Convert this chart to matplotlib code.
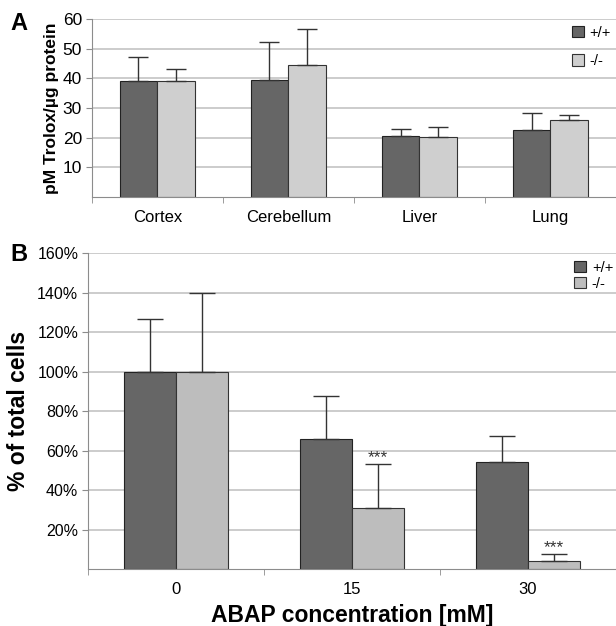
import numpy as np
import matplotlib
matplotlib.use('Agg')
import matplotlib.pyplot as plt
from matplotlib.ticker import FixedLocator, FuncFormatter

plt.rcParams['font.family'] = ['Liberation Sans', 'DejaVu Sans']

# panel A: antioxidant capacity
tissues = ['Cortex', 'Cerebellum', 'Liver', 'Lung']
wt_A = [39.1, 39.4, 20.5, 22.7]
wt_A_err = [8.1, 12.7, 2.3, 5.5]
ko_A = [39.0, 44.4, 20.3, 25.9]
ko_A_err = [4.1, 12.1, 3.4, 1.6]

# panel B: survival after ABAP
abap = ['0', '15', '30']
wt_B = [100, 65.7, 54.1]
wt_B_err = [26.8, 22.0, 13.4]
ko_B = [100, 31.2, 4.0]
ko_B_err = [39.8, 21.9, 3.7]
stars_B = ['', '***', '***']

labels = ['+/+', '-/-']
dark = '#666666'
light_A = '#cfcfcf'
light_B = '#bdbdbd'
grid_c = '#c4c4c4'
axis_c = '#8c8c8c'


def style_axes(ax, n):
    ax.spines['top'].set_visible(False)
    ax.spines['right'].set_visible(False)
    ax.spines['left'].set_color(axis_c)
    ax.spines['bottom'].set_color(axis_c)
    ax.yaxis.grid(True, color=grid_c, linewidth=1.2)
    ax.set_axisbelow(True)
    ax.set_xlim(-0.5, n - 0.5)
    ax.set_xticks(np.arange(n))
    ax.xaxis.set_minor_locator(FixedLocator(np.arange(n + 1) - 0.5))
    ax.tick_params(axis='x', which='major', length=0, pad=9)
    ax.tick_params(axis='x', which='minor', length=4, color=axis_c)
    ax.tick_params(axis='y', length=4, color=axis_c, pad=3)


fig = plt.figure(figsize=(6.16, 6.26), dpi=100)

# ---- A ----
ax = fig.add_axes([0.149, 0.685, 0.851, 0.285])
x = np.arange(len(tissues))
w = 0.288
ekw = dict(ecolor='#333333', elinewidth=1.0, capsize=7, capthick=1.0)
ax.bar(x - w / 2, wt_A, w, color=dark, edgecolor='#222222', linewidth=0.8,
       yerr=[np.zeros(len(x)), wt_A_err], error_kw=ekw, label=labels[0])
ax.bar(x + w / 2, ko_A, w, color=light_A, edgecolor='#333333', linewidth=0.8,
       yerr=[np.zeros(len(x)), ko_A_err], error_kw=ekw, label=labels[1])
style_axes(ax, len(tissues))
ax.set_ylim(0, 60)
ax.set_yticks([10, 20, 30, 40, 50, 60])
ax.set_xticklabels(tissues, fontsize=12)
ax.tick_params(axis='y', labelsize=12.5)
ax.set_ylabel('pM Trolox/µg protein', fontsize=12.5, fontweight='bold', labelpad=3)
ax.legend(loc='upper left', bbox_to_anchor=(0.905, 0.995), frameon=False, fontsize=10.5,
          handlelength=0.8, handleheight=0.8, handletextpad=0.4, labelspacing=1.0,
          borderaxespad=0)
fig.text(0.017, 0.962, 'A', fontsize=17, fontweight='bold', va='center')

# ---- B ----
ax = fig.add_axes([0.143, 0.0906, 0.857, 0.505])
x = np.arange(len(abap))
w = 0.295
ekw = dict(ecolor='#333333', elinewidth=1.0, capsize=9.5, capthick=1.0)
ax.bar(x - w / 2, wt_B, w, color=dark, edgecolor='#222222', linewidth=0.8,
       yerr=[np.zeros(len(x)), wt_B_err], error_kw=ekw, label=labels[0])
ax.bar(x + w / 2, ko_B, w, color=light_B, edgecolor='#333333', linewidth=0.8,
       yerr=[np.zeros(len(x)), ko_B_err], error_kw=ekw, label=labels[1])
for i, s in enumerate(stars_B):
    if s:
        ax.text(x[i] + w / 2, ko_B[i] + ko_B_err[i] - 0.5, s, ha='center', va='bottom',
                fontsize=12.5, color='#333333')
style_axes(ax, len(abap))
ax.set_ylim(0, 160)
ax.set_yticks(np.arange(20, 161, 20))
ax.yaxis.set_major_formatter(FuncFormatter(lambda v, p: '%d%%' % v))
ax.set_xticklabels(abap, fontsize=12)
ax.tick_params(axis='y', labelsize=11.5)
ax.set_ylabel('% of total cells', fontsize=16.5, fontweight='bold', labelpad=5)
ax.set_xlabel('ABAP concentration [mM]', fontsize=16.5, fontweight='bold', labelpad=5)
ax.legend(loc='upper left', bbox_to_anchor=(0.91, 0.995), frameon=False, fontsize=10.5,
          handlelength=0.8, handleheight=0.8, handletextpad=0.4, labelspacing=0.15,
          borderaxespad=0)
fig.text(0.017, 0.593, 'B', fontsize=17, fontweight='bold', va='center')

fig.savefig('out.png', dpi=100)
